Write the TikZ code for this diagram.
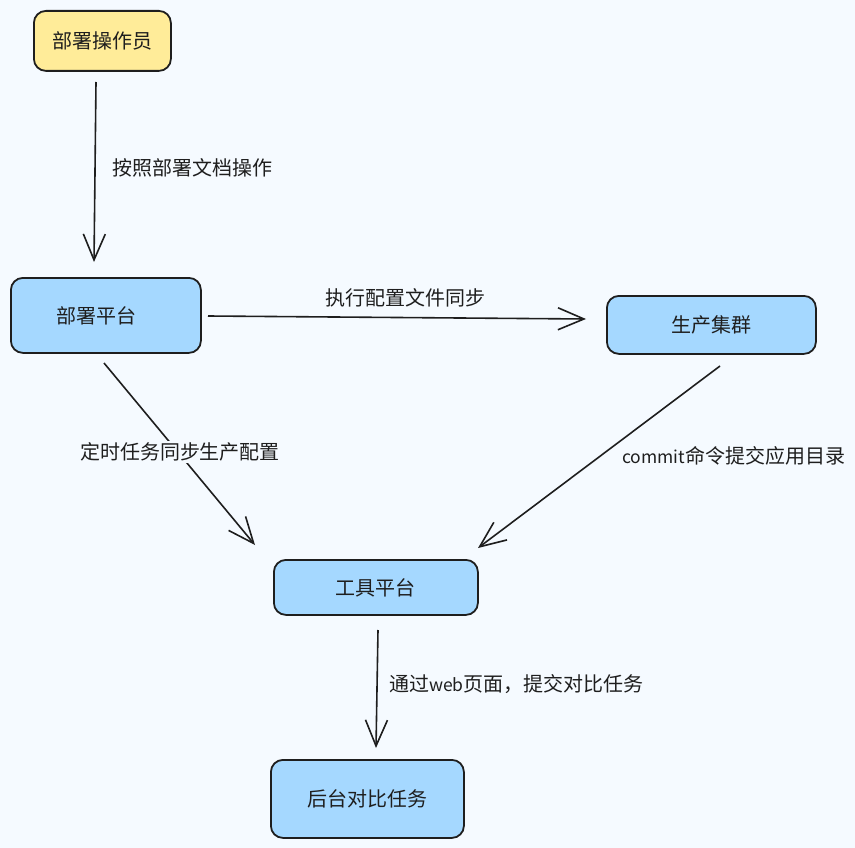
\documentclass[tikz,border=0pt]{standalone}
\usepackage{fontspec}
\setmainfont{Noto Sans CJK SC}
\usetikzlibrary{arrows.meta}
\definecolor{bg}{HTML}{F5FAFF}
\definecolor{ink}{HTML}{1E1E1E}
\definecolor{yel}{HTML}{FFEC99}
\definecolor{blu}{HTML}{A5D8FF}
\newcommand{\latpart}[1]{{\fontsize{17.5}{24}\selectfont #1}}
\tikzset{
  box/.style={draw=ink, line width=1.8pt, rounded corners=12pt, text=ink, font=\fontsize{20}{24}\selectfont, inner sep=0pt, anchor=north west},
  conn/.style={draw=ink, line width=1.6pt, -{Straight Barb[length=26pt,width=22pt,line width=1.6pt]}},
  lbl/.style={text=ink, font=\fontsize{20}{24}\selectfont, inner sep=2pt, fill=bg}
}
\begin{document}
\begin{tikzpicture}[x=1pt,y=-1pt]
\fill[bg] (0,0) rectangle (855,848);
\useasboundingbox (0,0) rectangle (855,848);
\node[box, fill=yel, minimum width=137pt, minimum height=60pt] (op) at (33,10) {部署操作员};
\node[box, fill=blu, minimum width=190pt, minimum height=75pt] (dp) at (10,277) {\hspace*{-18pt}部署平台};
\node[box, fill=blu, minimum width=209pt, minimum height=58pt] (pc) at (606,295) {生产集群};
\node[box, fill=blu, minimum width=204pt, minimum height=55pt] (tp) at (273,559) {工具平台};
\node[box, fill=blu, minimum width=193pt, minimum height=78pt] (bt) at (270,759) {后台对比任务};

\coordinate (a1s) at (96,82);   \coordinate (a1e) at (94,262);
\coordinate (a2s) at (208,316); \coordinate (a2e) at (586,319);
\coordinate (a3s) at (104,363); \coordinate (a3e) at (255,545);
\coordinate (a4s) at (720,366); \coordinate (a4e) at (478,548);
\coordinate (a5s) at (378,630); \coordinate (a5e) at (376,748);

\draw[conn] (a1s) -- (a1e);
\draw[conn] (a2s) -- (a2e);
\draw[conn] (a3s) -- (a3e);
\draw[conn] (a4s) -- (a4e);
\draw[conn] (a5s) -- (a5e);

\node[lbl, anchor=west] (l1) at (110,168) {按照部署文档操作};
\node[lbl, anchor=center] (l2) at (405,298) {执行配置文件同步};
\node[lbl, anchor=center] (l3) at (180,452) {定时任务同步生产配置};
\node[lbl, anchor=west] (l4) at (620,456) {\latpart{commit}命令提交应用目录};
\node[lbl, anchor=west] (l5) at (387,684) {通过\latpart{web}页面，提交对比任务};
\end{tikzpicture}
\end{document}
